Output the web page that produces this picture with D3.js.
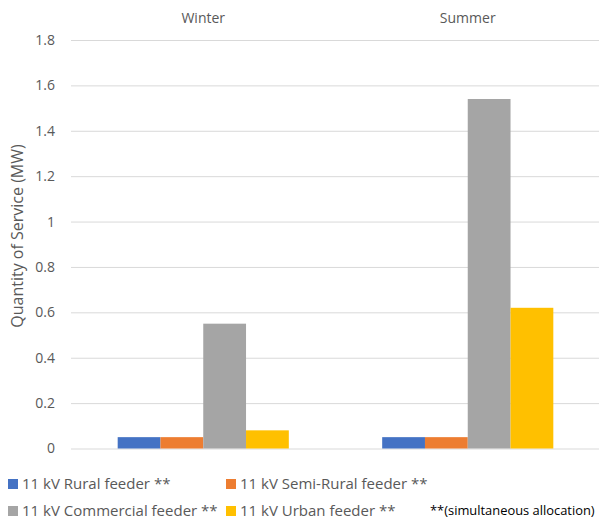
<!DOCTYPE html>
<html><head><meta charset="utf-8">
<script src="https://cdn.jsdelivr.net/npm/d3@7"></script>
<style>body{margin:0;background:#fff;overflow:hidden;} svg{display:block;font-family:"Open Sans",sans-serif;}</style>
</head><body>
<svg id="c" width="599" height="523"></svg>
<script>
const categories = ["Winter", "Summer"];
const seriesNames = ["11 kV Rural feeder **", "11 kV Semi-Rural feeder **", "11 kV Commercial feeder **", "11 kV Urban feeder **"];
const rural = [0.05, 0.05];
const semiRural = [0.05, 0.05];
const commercial = [0.55, 1.54];
const urban = [0.08, 0.62];
const colors = ["#4472C4", "#ED7D31", "#A5A5A5", "#FFC000"];
const yTicks = [0, 0.2, 0.4, 0.6, 0.8, 1, 1.2, 1.4, 1.6, 1.8];
const note = "**(simultaneous allocation)";

(function () {
const seriesValues = [rural, semiRural, commercial, urban];
const svg = d3.select("#c");
const mLeft = 71, mRight = 600, mTop = 40, mBottom = 448.5;

const y = d3.scaleLinear().domain([0, 1.8]).range([mBottom, mTop]);
const x0 = d3.scaleBand().domain(categories).range([mLeft, mRight]).paddingInner(0).paddingOuter(0);
const groupW = x0.step() * 0.647;
const x1 = d3.scaleBand().domain(d3.range(seriesNames.length)).range([0, groupW]).padding(0);

const yAxis = d3.axisLeft(y).tickValues(yTicks).tickSize(-(mRight - mLeft)).tickFormat(d => d3.format("~g")(d)).tickPadding(16);
const ga = svg.append("g").attr("transform", `translate(${mLeft},0)`).call(yAxis);
ga.select(".domain").remove();
ga.selectAll(".tick line").attr("stroke", "#d9d9d9").attr("stroke-width", 1);
ga.selectAll(".tick text").attr("fill", "#595959").style("font-size", "14px").attr("font-family", "Open Sans, sans-serif");

svg.append("g").selectAll("text").data(categories).join("text")
  .attr("x", d => x0(d) + x0.bandwidth() / 2)
  .attr("y", 23)
  .attr("text-anchor", "middle")
  .attr("fill", "#595959")
  .style("font-size", "14px")
  .text(d => d);

categories.forEach((c, ci) => {
  const gx = x0(c) + (x0.bandwidth() - groupW) / 2;
  svg.append("g").attr("transform", `translate(${gx},0)`)
    .selectAll("rect").data(seriesValues.map((s, si) => ({si, v: s[ci]}))).join("rect")
    .attr("x", d => x1(d.si))
    .attr("width", x1.bandwidth())
    .attr("y", d => y(d.v))
    .attr("height", d => y(0) - y(d.v))
    .attr("fill", d => colors[d.si]);
});

svg.append("text")
  .attr("transform", `translate(23,236) rotate(-90)`)
  .attr("text-anchor", "middle")
  .attr("fill", "#595959")
  .style("font-size", "16px")
  .text("Quantity of Service (MW)");

const legPos = [[8, 489], [226, 489], [8, 516], [226, 516]];
const lg = svg.append("g").selectAll("g").data(seriesNames).join("g")
  .attr("transform", (d, i) => `translate(${legPos[i][0]},${legPos[i][1]})`);
lg.append("rect").attr("x", 0).attr("y", -10).attr("width", 10).attr("height", 10).attr("fill", (d, i) => colors[i]);
lg.append("text").attr("x", 14).attr("y", 0).attr("fill", "#595959").style("font-size", "15px").text(d => d);

svg.append("text").attr("x", 430).attr("y", 515).attr("fill", "#000").style("font-size", "12.9px").text(note);
})();
</script>
</body></html>
